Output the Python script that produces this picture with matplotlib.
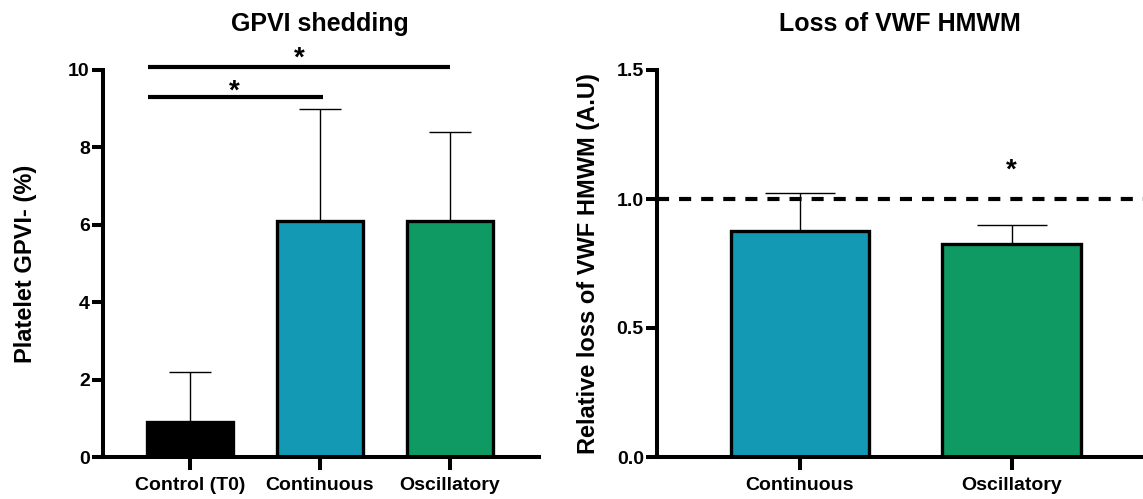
import matplotlib
matplotlib.use("Agg")
import matplotlib.pyplot as plt
import numpy as np

plt.rcParams['font.family'] = ['Liberation Sans', 'DejaVu Sans']
plt.rcParams['font.weight'] = 'bold'

# ---- data ----
gpvi_categories = ["Control (T0)", "Continuous", "Oscillatory"]
gpvi_means = [0.9, 6.1, 6.1]
gpvi_upper = [2.2, 9.0, 8.4]
gpvi_colors = ["#000000", "#1399B4", "#0E9A62"]
gpvi_yticks = [0, 2, 4, 6, 8, 10]

vwf_categories = ["Continuous", "Oscillatory"]
vwf_means = [0.875, 0.827]
vwf_upper = [1.024, 0.899]
vwf_colors = ["#1399B4", "#0E9A62"]
vwf_yticks = [0.0, 0.5, 1.0, 1.5]
vwf_ytick_labels = ["0.0", "0.5", "1.0", "1.5"]
vwf_reference = 1.0

# significance brackets for GPVI: (start index, end index, height)
gpvi_sig = [(0, 1, 9.29), (0, 2, 10.09)]

W, H = 1143, 499
fig = plt.figure(figsize=(W / 100, H / 100), dpi=100)

ax1 = fig.add_axes([103 / W, 1 - 457 / H, (539 - 103) / W, (457 - 70) / H])
ax2 = fig.add_axes([657 / W, 1 - 457 / H, (1143 - 657) / W, (457 - 70) / H])

spine_lw = 2.9
edge_lw = 2.4
err_lw = 1.0


def style(ax):
    for s in ["top", "right"]:
        ax.spines[s].set_visible(False)
    for s in ["left", "bottom"]:
        ax.spines[s].set_linewidth(spine_lw)
        ax.spines[s].set_capstyle('projecting')
    ax.tick_params(axis='y', direction='out', length=8, width=spine_lw,
                   labelsize=14, pad=1.5)
    ax.tick_params(axis='x', direction='out', length=9.5, width=spine_lw,
                   labelsize=14, pad=5)
    for lab in ax.get_xticklabels() + ax.get_yticklabels():
        lab.set_fontweight('bold')


def bars_with_err(ax, means, upper, colors, width, cap):
    x = np.arange(len(means))
    ax.vlines(x, means, upper, colors='black', linewidth=err_lw, zorder=1)
    ax.hlines(upper, x - cap / 2, x + cap / 2, colors='black', linewidth=err_lw, zorder=1)
    ax.bar(x, means, width=width, color=colors, edgecolor='black',
           linewidth=edge_lw, zorder=2)
    return x


# ---- left panel ----
x1 = bars_with_err(ax1, gpvi_means, gpvi_upper, gpvi_colors, 0.66, 0.32)
ax1.set_xlim(-0.669, 2.685)
ax1.set_ylim(0, 10)
ax1.set_yticks(gpvi_yticks)
ax1.set_xticks(x1)
ax1.set_xticklabels(gpvi_categories)
style(ax1)
ax1.set_ylabel("Platelet GPVI- (%)", fontsize=17, fontweight='bold')
ax1.yaxis.set_label_coords(-0.152, 0.5)

star_offsets = [-0.5, 0.5]
for (i0, i1, h), off in zip(gpvi_sig, star_offsets):
    ax1.plot([x1[i0] - 0.32, x1[i1] + 0.02 if i1 == 1 else x1[i1]], [h, h],
             color='black', linewidth=3, clip_on=False, solid_capstyle='butt')
    ax1.annotate("*", xy=((x1[i0] + x1[i1]) / 2 - 0.16, h), xytext=(0, off),
                 textcoords='offset points', ha='center', va='baseline',
                 fontsize=20, fontweight='bold', annotation_clip=False)

fig.text(320 / W, 1 - 24 / H, "GPVI shedding", ha='center', va='center',
         fontsize=18, fontweight='bold')

# ---- right panel ----
x2 = bars_with_err(ax2, vwf_means, vwf_upper, vwf_colors, 0.655, 0.33)
ax2.axhline(vwf_reference, color='black', linewidth=3, linestyle=(0, (2.9, 2.4)),
            zorder=3)
ax2.set_xlim(-0.675, 1.62)
ax2.set_ylim(0, 1.5)
ax2.set_yticks(vwf_yticks)
ax2.set_yticklabels(vwf_ytick_labels)
ax2.set_xticks(x2)
ax2.set_xticklabels(vwf_categories)
style(ax2)
ax2.set_ylabel("Relative loss of VWF HMWM (A.U)", fontsize=17, fontweight='bold')
ax2.yaxis.set_label_coords(-0.118, 0.5)
ax2.annotate("*", xy=(x2[1], 1.129), xytext=(0, -8.5), textcoords='offset points',
             ha='center', va='baseline', fontsize=20, fontweight='bold')

fig.text(900 / W, 1 - 24 / H, "Loss of VWF HMWM", ha='center', va='center',
         fontsize=18, fontweight='bold')

fig.savefig("out.png", dpi=100)
